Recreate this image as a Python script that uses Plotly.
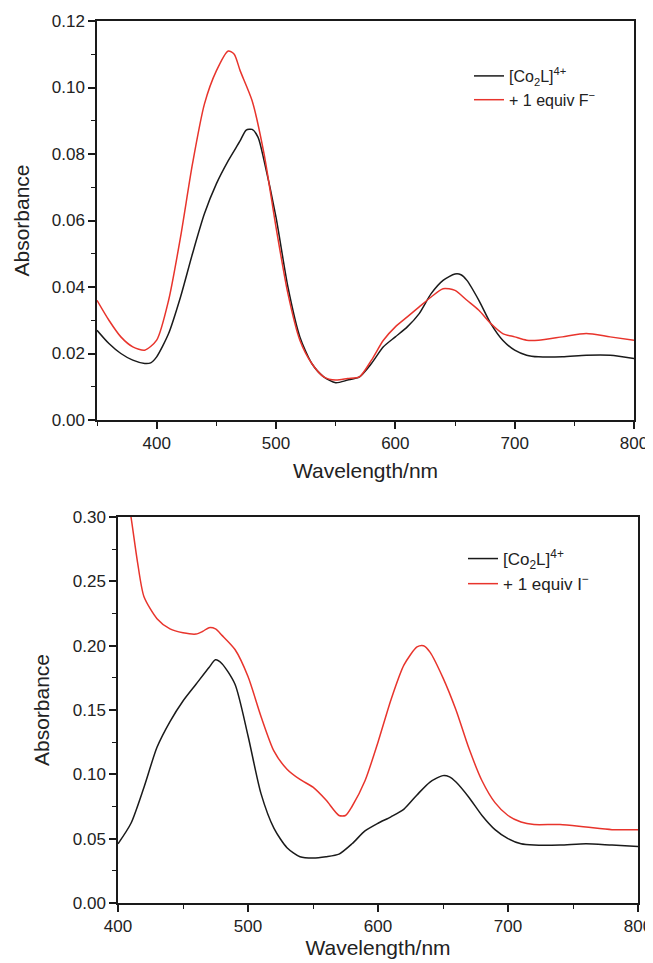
import plotly.graph_objects as go

# ---------------- Top panel: + F- ----------------
wl_top_black = [350, 360, 370, 380, 390, 395, 400, 410, 420, 430, 440, 450, 460, 470, 475, 480, 485, 490,
                500, 510, 520, 530, 540, 550, 560, 570, 580, 590, 600, 610, 620, 630, 640, 650, 655,
                660, 670, 680, 690, 700, 710, 720, 740, 760, 780, 800]
abs_top_black = [0.027, 0.023, 0.020, 0.018, 0.017, 0.0172, 0.019, 0.026, 0.037, 0.050, 0.062, 0.071, 0.078,
                 0.084, 0.0872, 0.0874, 0.085, 0.078, 0.061, 0.040, 0.025, 0.017, 0.013, 0.0112, 0.012,
                 0.013, 0.017, 0.022, 0.025, 0.028, 0.032, 0.038, 0.042, 0.0439, 0.0437, 0.042, 0.036,
                 0.029, 0.024, 0.021, 0.0195, 0.019, 0.019, 0.0195, 0.0195, 0.0185]

wl_top_red = [350, 360, 370, 380, 390, 400, 410, 420, 430, 440, 450, 460, 465, 470, 480, 490, 500, 510,
              520, 530, 540, 550, 560, 570, 580, 590, 600, 610, 620, 630, 640, 650, 660, 670, 680, 690,
              700, 710, 720, 740, 760, 780, 800]
abs_top_red = [0.036, 0.030, 0.025, 0.022, 0.021, 0.024, 0.036, 0.055, 0.077, 0.095, 0.105, 0.111, 0.110,
               0.105, 0.096, 0.080, 0.058, 0.038, 0.024, 0.017, 0.013, 0.012, 0.0125, 0.013, 0.018,
               0.024, 0.028, 0.031, 0.034, 0.037, 0.0395, 0.039, 0.036, 0.033, 0.029, 0.026, 0.025,
               0.024, 0.024, 0.025, 0.026, 0.025, 0.024]

# ---------------- Bottom panel: + I- ----------------
wl_bot_black = [400, 410, 420, 430, 440, 450, 460, 470, 475, 480, 490, 500, 510, 520, 530, 540, 550, 560,
                570, 580, 590, 600, 610, 620, 630, 640, 650, 655, 660, 670, 680, 690, 700, 710, 720,
                740, 760, 780, 800]
abs_bot_black = [0.046, 0.062, 0.090, 0.121, 0.141, 0.157, 0.170, 0.183, 0.189, 0.186, 0.170, 0.130,
                 0.085, 0.058, 0.043, 0.036, 0.035, 0.036, 0.038, 0.046, 0.056, 0.062, 0.067, 0.073,
                 0.084, 0.094, 0.099, 0.098, 0.094, 0.082, 0.068, 0.057, 0.050, 0.046, 0.045, 0.045,
                 0.046, 0.045, 0.044]

wl_bot_red = [400, 405, 410, 415, 420, 430, 440, 450, 460, 465, 470, 475, 480, 490, 500, 510, 520, 530,
              540, 550, 560, 570, 575, 580, 590, 600, 610, 620, 630, 635, 640, 650, 660, 670, 680, 690,
              700, 710, 720, 740, 760, 780, 800]
abs_bot_red = [0.36, 0.33, 0.300, 0.265, 0.238, 0.221, 0.213, 0.210, 0.209, 0.211, 0.214, 0.213, 0.208,
               0.197, 0.176, 0.145, 0.118, 0.104, 0.096, 0.090, 0.080, 0.068, 0.068, 0.075, 0.095,
               0.125, 0.158, 0.185, 0.199, 0.200, 0.195, 0.175, 0.150, 0.120, 0.095, 0.078, 0.068,
               0.063, 0.061, 0.061, 0.059, 0.057, 0.057]

name_black = "[Co<sub>2</sub>L]<sup>4+</sup>"
name_red_top = "+ 1 equiv F<sup>\u2212</sup>"
name_red_bot = "+ 1 equiv I<sup>\u2212</sup>"

BLACK = "#1a1a1a"
RED = "#e8342c"
OFF = 8  # page body margin
W, H = 653 - OFF, 963 - OFF
FONT = "Liberation Sans, Arial, sans-serif"

def line(color):
    return dict(color=color, width=1.5, shape="spline", smoothing=0.7)

fig = go.Figure()
fig.add_trace(go.Scatter(x=wl_top_black, y=abs_top_black, mode="lines", name=name_black,
                         line=line(BLACK), xaxis="x", yaxis="y", legend="legend"))
fig.add_trace(go.Scatter(x=wl_top_red, y=abs_top_red, mode="lines", name=name_red_top,
                         line=line(RED), xaxis="x", yaxis="y", legend="legend"))
fig.add_trace(go.Scatter(x=wl_bot_black, y=abs_bot_black, mode="lines", name=name_black,
                         line=line(BLACK), xaxis="x2", yaxis="y2", legend="legend2"))
fig.add_trace(go.Scatter(x=wl_bot_red, y=abs_bot_red, mode="lines", name=name_red_bot,
                         line=line(RED), xaxis="x2", yaxis="y2", legend="legend2"))

axis_common = dict(showline=True, linecolor=BLACK, linewidth=1.5, mirror=True, showgrid=False,
                   zeroline=False, ticks="outside", ticklen=7, tickwidth=1.5, tickcolor=BLACK,
                   automargin=False,
                   tickfont=dict(family=FONT, size=17, color="#222"))

minor_common = dict(ticks="outside", ticklen=4, tickwidth=1.2, tickcolor=BLACK)

def xd(a, b):
    return [(a - OFF) / W, (b - OFF) / W]

def yd(top, bottom):
    return [1 - (bottom - OFF) / H, 1 - (top - OFF) / H]

def lx(px):
    return (px - OFF) / W

def ly(py):
    return 1 - (py - OFF) / H

fig.update_layout(
    width=W, height=H, margin=dict(l=0, r=0, t=0, b=0, autoexpand=False),
    paper_bgcolor="white", plot_bgcolor="white",
    font=dict(family=FONT, color="#222"),
    xaxis=dict(axis_common, domain=xd(97, 634), anchor="y", range=[350, 800], tick0=400, dtick=100,
               minor=dict(minor_common, dtick=50, tick0=350),
               title=dict(text="Wavelength/nm", font=dict(family=FONT, size=21), standoff=11)),
    yaxis=dict(axis_common, domain=yd(21, 420), anchor="x", range=[0, 0.12], dtick=0.02,
               tickformat=".2f",
               minor=dict(minor_common, dtick=0.01),
               title=dict(text="Absorbance", font=dict(family=FONT, size=21), standoff=16)),
    xaxis2=dict(axis_common, domain=xd(118, 638), anchor="y2", range=[400, 800], dtick=100,
                minor=dict(minor_common, dtick=50),
                title=dict(text="Wavelength/nm", font=dict(family=FONT, size=21), standoff=4)),
    yaxis2=dict(axis_common, domain=yd(517, 903), anchor="x2", range=[0, 0.30], dtick=0.05,
                tickformat=".2f",
                minor=dict(minor_common, dtick=0.025),
                title=dict(text="Absorbance", font=dict(family=FONT, size=21), standoff=17)),
    legend=dict(x=lx(469), y=ly(59), xanchor="left", yanchor="top", bgcolor="rgba(0,0,0,0)",
                font=dict(family=FONT, size=16, color="#222"), tracegroupgap=0),
    legend2=dict(x=lx(463), y=ly(541), xanchor="left", yanchor="top", bgcolor="rgba(0,0,0,0)",
                 font=dict(family=FONT, size=17, color="#222"), tracegroupgap=0),
)

fig.write_html("out.html")
